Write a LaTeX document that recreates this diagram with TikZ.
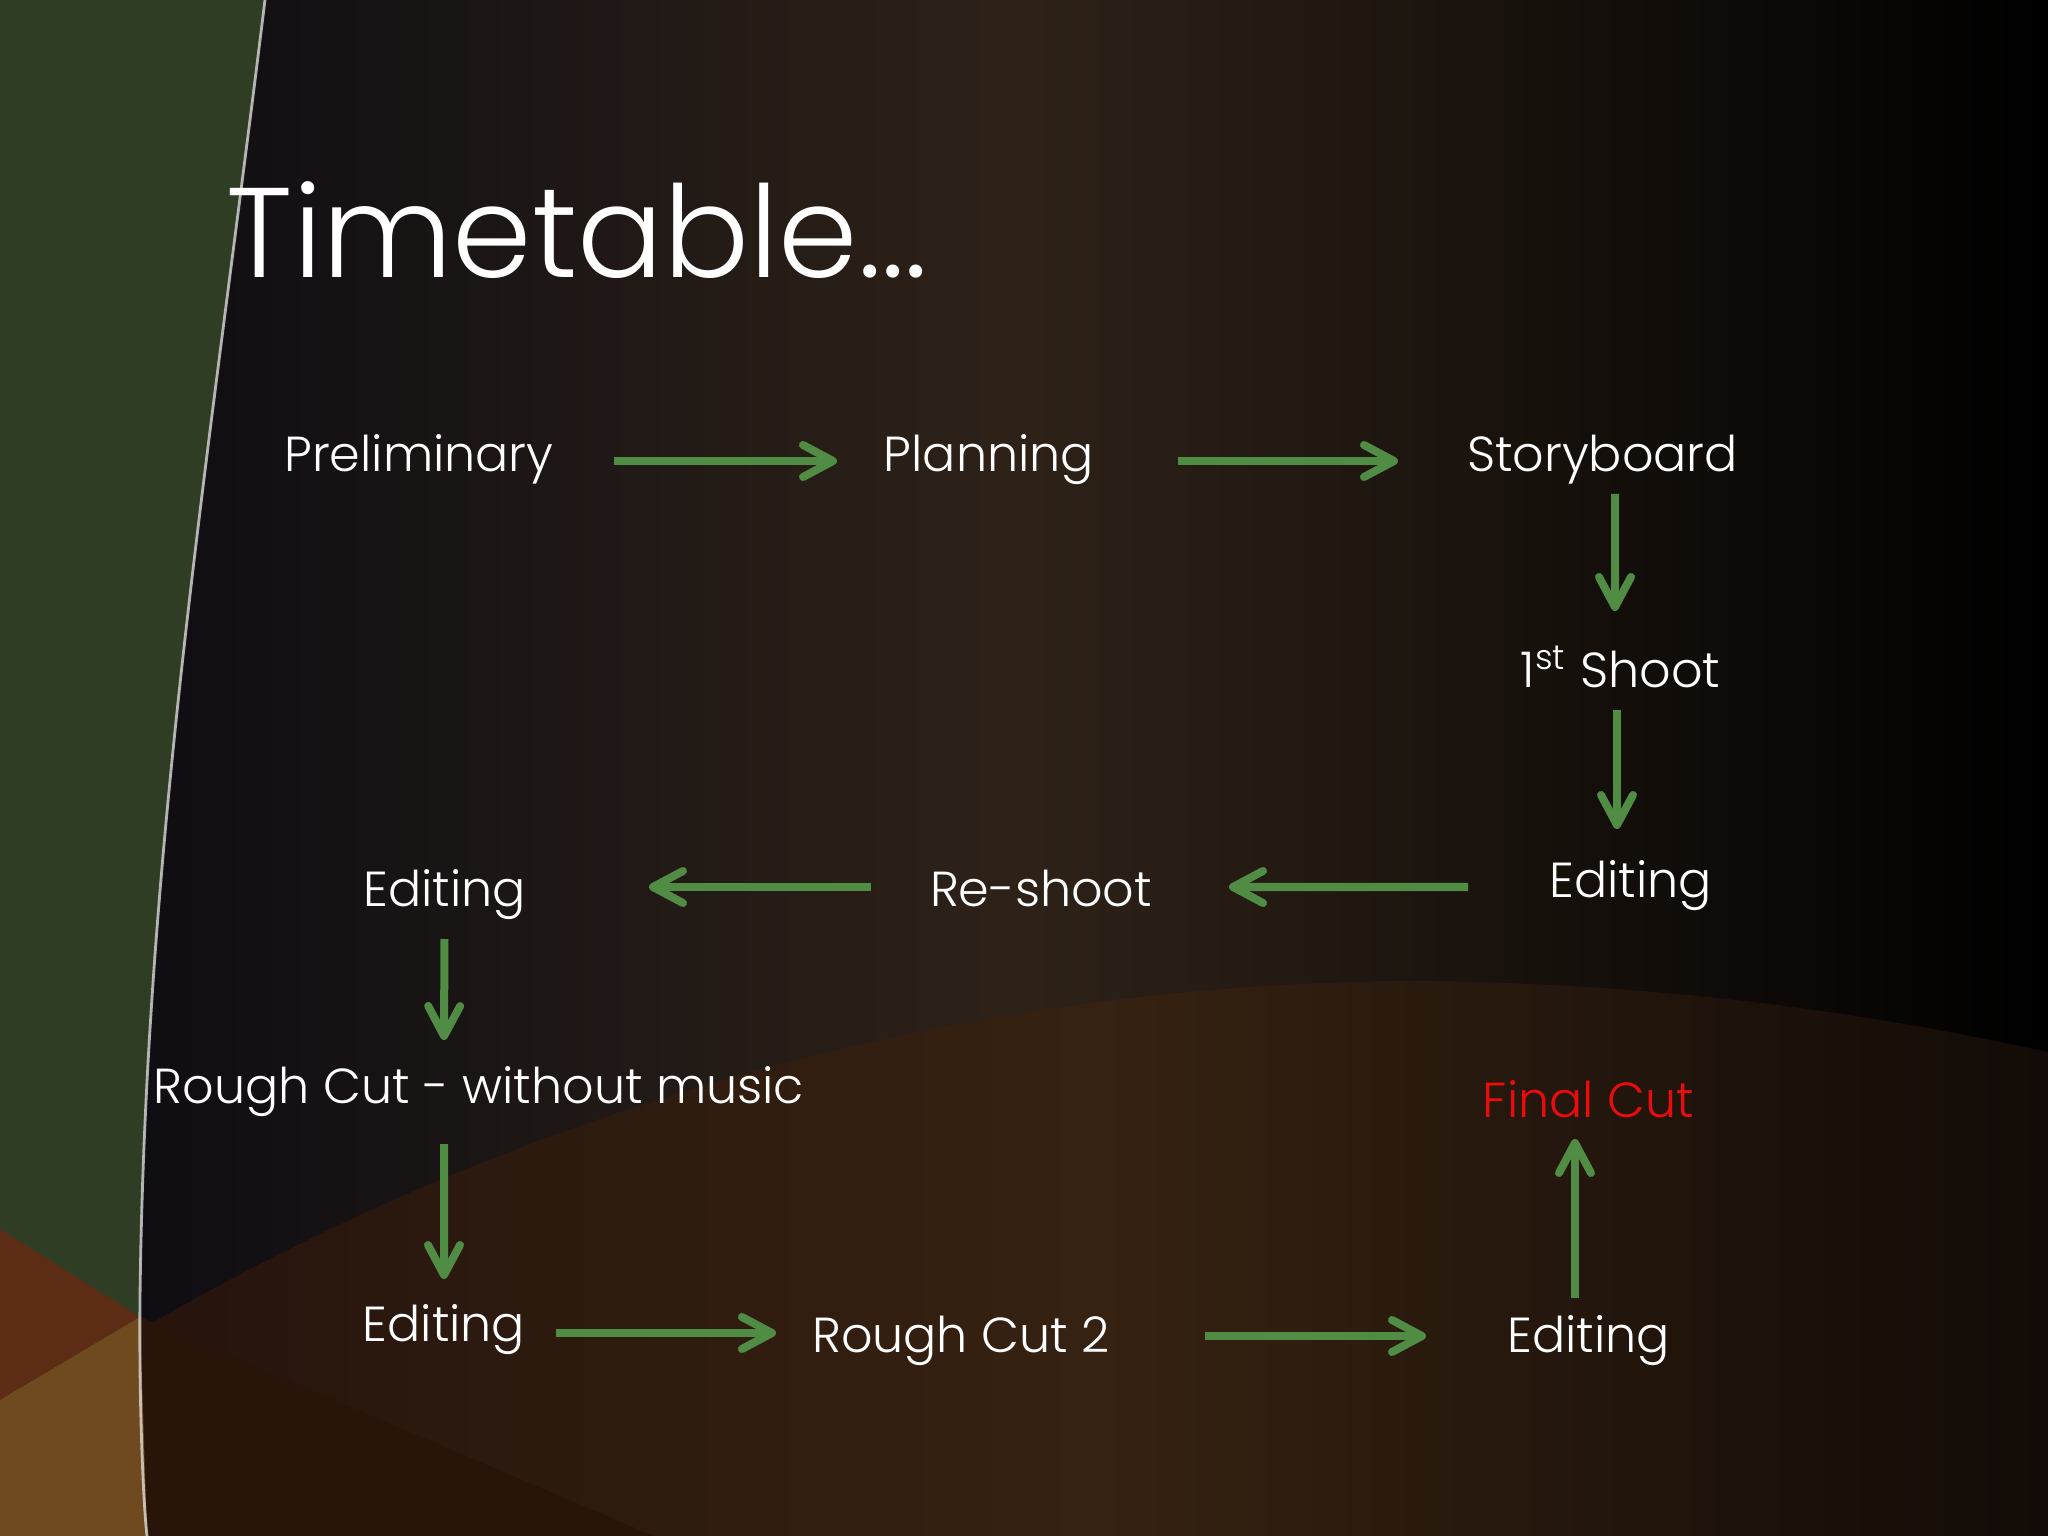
\documentclass[tikz,border=0pt]{standalone}
\usepackage{fontspec}
\setmainfont{Poppins}[UprightFont=* Light]
\usetikzlibrary{arrows.meta}

\definecolor{arrowgreen}{RGB}{80,140,68}
\definecolor{bandgreen}{RGB}{48,61,37}
\definecolor{finalred}{RGB}{232,12,12}
\definecolor{navyblack}{RGB}{10,10,18}
\definecolor{midbrown}{RGB}{46,34,24}
\definecolor{lowleft}{RGB}{38,20,13}
\definecolor{lowbrown}{RGB}{54,34,18}
\definecolor{lowright}{RGB}{18,11,7}
\definecolor{rustbrown}{RGB}{92,44,20}
\definecolor{ochre}{RGB}{110,74,30}

\begin{document}
\begin{tikzpicture}[
    stage/.style={text=white, inner sep=0pt, anchor=base, font=\fontsize{14}{17}\selectfont},
    flow/.style={arrowgreen, line width=0.08cm, -{Straight Barb[length=3mm,width=3.2mm,round]}}
]
    \useasboundingbox (0,0) rectangle (20.48,-15.36);

    % Draw background
    \shade[left color=navyblack, right color=black, middle color=midbrown] (0,0) rectangle (20.48,-15.36);
    % lower arc
    \shade[left color=lowleft, right color=lowright, middle color=lowbrown]
        (1.40,-13.3) .. controls (5.5,-10.9) and (10,-9.8) .. (14.29,-9.81)
        .. controls (17,-9.85) and (19,-10.2) .. (20.48,-10.52) -- (20.48,-15.36) -- (1.40,-15.36) -- cycle;
    \fill[rustbrown!45!black] (1.40,-13.17) -- (6.54,-15.36) -- (1.47,-15.36) -- cycle;
    % green band on the left
    \fill[bandgreen] (0,0) -- (2.65,0) .. controls (2.1,-4.5) and (1.45,-8.5) .. (1.40,-13.0)
        .. controls (1.39,-14) and (1.43,-15) .. (1.47,-15.36) -- (0,-15.36) -- cycle;
    \fill[rustbrown] (0,-12.29) -- (1.40,-13.17) -- (0,-14.0) -- cycle;
    \fill[ochre] (0,-14.0) -- (1.40,-13.17) -- (1.47,-15.36) -- (0,-15.36) -- cycle;
    \draw[white!80!gray, opacity=0.75, line width=0.8pt] (2.65,0) .. controls (2.1,-4.5) and (1.45,-8.5) .. (1.40,-13.0)
        .. controls (1.39,-14) and (1.43,-15) .. (1.47,-15.36);

    % Draw title
    \node[text=white, inner sep=0pt, anchor=base west, font=\fontsize{36.3}{43}\selectfont] (title) at (2.26,-2.78) {Timetable...};

    % Draw stages
    \node[stage] (prelim) at (4.19,-4.71) {Preliminary};
    \node[stage] (plan) at (9.89,-4.71) {Planning};
    \node[stage] (story) at (16.025,-4.71) {Storyboard};
    \node[stage] (shoot) at (16.205,-6.88) {1\textsuperscript{st} Shoot};
    \node[stage] (editR) at (16.305,-8.97) {Editing};
    \node[stage] (reshoot) at (10.41,-9.06) {Re-shoot};
    \node[stage] (editL) at (4.445,-9.06) {Editing};
    \node[stage] (rough) at (4.79,-11.03) {Rough Cut - without music};
    \node[stage] (editL2) at (4.44,-13.41) {Editing};
    \node[stage] (rough2) at (9.61,-13.52) {Rough Cut 2};
    \node[stage] (editR2) at (15.885,-13.52) {Editing};
    \node[stage, text=finalred] (final) at (15.885,-11.17) {Final Cut};

    % Draw arrows
    \draw[flow] ([shift={(1.95,0.10)}]prelim.base) -- ([shift={(-1.52,0.10)}]plan.base);
    \draw[flow] ([shift={(1.89,0.10)}]plan.base) -- ([shift={(-2.045,0.10)}]story.base);
    \draw[flow] ([shift={(0.125,-0.23)}]story.base) -- ([shift={(-0.055,0.77)}]shoot.base);
    \draw[flow] ([shift={(-0.035,-0.22)}]shoot.base) -- ([shift={(-0.135,0.68)}]editR.base);
    \draw[flow] ([shift={(-1.625,0.10)}]editR.base) -- ([shift={(1.88,0.19)}]reshoot.base);
    \draw[flow] ([shift={(-1.70,0.19)}]reshoot.base) -- ([shift={(2.045,0.19)}]editL.base);
    \draw[flow] ([shift={(0,-0.33)}]editL.base) -- ([shift={(-0.35,0.63)}]rough.base);
    \draw[flow] ([shift={(-0.35,-0.41)}]rough.base) -- ([shift={(0,0.62)}]editL2.base);
    \draw[flow] ([shift={(1.12,0.08)}]editL2.base) -- ([shift={(-1.85,0.19)}]rough2.base);
    \draw[flow] ([shift={(2.44,0.16)}]rough2.base) -- ([shift={(-1.625,0.16)}]editR2.base);
    \draw[flow] ([shift={(-0.135,0.54)}]editR2.base) -- ([shift={(-0.135,-0.22)}]final.base);
\end{tikzpicture}
\end{document}
